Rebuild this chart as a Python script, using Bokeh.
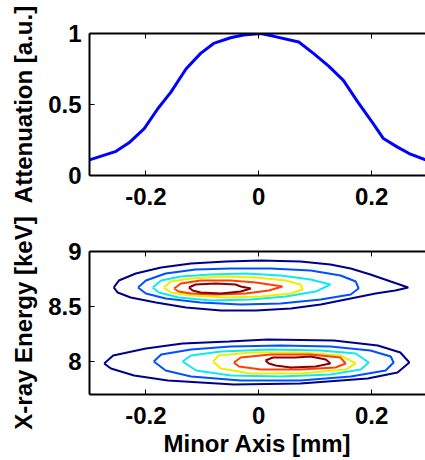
from bokeh.plotting import figure
from bokeh.models import Range1d, FixedTicker, LinearAxis
from bokeh.layouts import column
from bokeh.embed import file_html
from bokeh.resources import INLINE

# ---------------- data ----------------
atten_x = [-0.300, -0.253, -0.230, -0.203, -0.179, -0.156, -0.129, -0.103, -0.080,
           -0.050, -0.027, 0.004, 0.027, 0.071, 0.097, 0.124, 0.150, 0.177, 0.202,
           0.221, 0.246, 0.269, 0.296]
atten_y = [0.11, 0.17, 0.23, 0.33, 0.47, 0.585, 0.75, 0.86, 0.93,
           0.97, 0.99, 1.00, 0.98, 0.94, 0.86, 0.77, 0.67, 0.51, 0.37,
           0.26, 0.20, 0.15, 0.11]

x_ticks = [-0.2, 0.0, 0.2]
x_tick_labels = ["-0.2", "0", "0.2"]
atten_ticks = [0.0, 0.5, 1.0]
atten_tick_labels = ["0", "0.5", "1"]
energy_ticks = [8.0, 8.5, 9.0]
energy_tick_labels = ["8", "8.5", "9"]

level_colors = ["#00008F", "#0050FF", "#10E8F0", "#EEEE00", "#FF4000", "#8A0000"]

# upper peak (~8.68 keV) contours, outer -> inner
up0_x = [-0.257, -0.248, -0.218, -0.173, -0.120, -0.058, 0.004, 0.074, 0.127, 0.163, 0.198,
         0.234, 0.265, 0.242, 0.207, 0.163, 0.110, 0.057, -0.005, -0.067, -0.129, -0.182,
         -0.227, -0.250]
up0_y = [8.673, 8.736, 8.800, 8.855, 8.891, 8.909, 8.918, 8.909, 8.882, 8.845, 8.791,
         8.727, 8.673, 8.645, 8.618, 8.573, 8.518, 8.482, 8.464, 8.464, 8.491, 8.536,
         8.582, 8.627]
up1_x = [-0.214, -0.200, -0.165, -0.112, -0.050, 0.021, 0.092, 0.145, 0.172, 0.177, 0.163,
         0.110, 0.039, -0.032, -0.103, -0.165, -0.200]
up1_y = [8.673, 8.736, 8.800, 8.836, 8.845, 8.845, 8.827, 8.782, 8.727, 8.664, 8.609,
         8.564, 8.527, 8.518, 8.536, 8.573, 8.618]
up2_x = [-0.188, -0.173, -0.138, -0.085, -0.023, 0.039, 0.092, 0.127, 0.101, 0.048, -0.014,
         -0.085, -0.142, -0.177]
up2_y = [8.673, 8.736, 8.773, 8.791, 8.800, 8.782, 8.745, 8.700, 8.636, 8.591, 8.564,
         8.555, 8.582, 8.627]
up3_x = [-0.168, -0.156, -0.120, -0.067, -0.005, 0.048, 0.074, 0.078, 0.057, 0.004, -0.058,
         -0.120, -0.156]
up3_y = [8.673, 8.727, 8.755, 8.773, 8.764, 8.736, 8.700, 8.655, 8.618, 8.591, 8.582,
         8.600, 8.627]
up4_x = [-0.150, -0.138, -0.103, -0.050, -0.005, 0.042, 0.018, -0.023, -0.076, -0.120, -0.142]
up4_y = [8.664, 8.709, 8.736, 8.736, 8.718, 8.682, 8.645, 8.618, 8.609, 8.618, 8.636]
up5_x = [-0.124, -0.112, -0.076, -0.041, -0.032, -0.014, -0.032, -0.067, -0.103, -0.117]
up5_y = [8.673, 8.700, 8.709, 8.700, 8.682, 8.664, 8.636, 8.618, 8.627, 8.645]

# lower peak (~8.0 keV) contours, outer -> inner
lo0_x = [-0.274, -0.258, -0.200, -0.135, -0.053, 0.016, 0.133, 0.211, 0.251, 0.267, 0.246,
         0.193, 0.074, -0.044, -0.161, -0.221, -0.262]
lo0_y = [7.982, 8.055, 8.118, 8.164, 8.182, 8.200, 8.191, 8.145, 8.082, 7.991, 7.900,
         7.845, 7.800, 7.791, 7.827, 7.873, 7.936]
lo1_x = [-0.186, -0.173, -0.120, -0.050, 0.039, 0.127, 0.198, 0.234, 0.239, 0.225, 0.163,
         0.074, -0.032, -0.120, -0.165]
lo1_y = [8.000, 8.064, 8.109, 8.136, 8.145, 8.136, 8.100, 8.045, 7.991, 7.918, 7.864,
         7.827, 7.827, 7.864, 7.918]
lo2_x = [-0.135, -0.120, -0.067, 0.021, 0.110, 0.172, 0.195, 0.181, 0.127, 0.039, -0.050,
         -0.111]
lo2_y = [8.000, 8.055, 8.091, 8.109, 8.100, 8.073, 7.991, 7.927, 7.882, 7.864, 7.873,
         7.918]
lo3_x = [-0.081, -0.071, -0.014, 0.074, 0.145, 0.172, 0.154, 0.074, -0.014, -0.067]
lo3_y = [8.000, 8.055, 8.082, 8.082, 8.055, 7.982, 7.927, 7.891, 7.891, 7.936]
lo4_x = [-0.044, -0.032, 0.021, 0.092, 0.145, 0.154, 0.136, 0.074, 0.004, -0.035]
lo4_y = [7.991, 8.036, 8.064, 8.064, 8.036, 7.982, 7.945, 7.927, 7.927, 7.955]
lo5_x = [0.012, 0.025, 0.065, 0.092, 0.119, 0.127, 0.101, 0.057, 0.030, 0.018]
lo5_y = [8.009, 8.036, 8.036, 8.045, 8.018, 7.982, 7.955, 7.945, 7.964, 7.982]

upper_x = [up0_x, up1_x, up2_x, up3_x, up4_x, up5_x]
upper_y = [up0_y, up1_y, up2_y, up3_y, up4_y, up5_y]
lower_x = [lo0_x, lo1_x, lo2_x, lo3_x, lo4_x, lo5_x]
lower_y = [lo0_y, lo1_y, lo2_y, lo3_y, lo4_y, lo5_y]

FONT = "Liberation Sans"
TICK_SIZE = "24px"
LABEL_SIZE = "24px"


def style_axis(ax, ticks, labels, standoff, label_standoff=0):
    ax.ticker = FixedTicker(ticks=ticks)
    ax.major_label_overrides = {t: l for t, l in zip(ticks, labels)}
    ax.major_tick_in = 5
    ax.major_tick_out = 0
    ax.minor_tick_line_color = None
    ax.major_tick_line_color = "black"
    ax.major_tick_line_width = 1
    ax.axis_line_color = "black"
    ax.axis_line_width = 2
    ax.major_label_text_font = FONT
    ax.major_label_text_font_style = "bold"
    ax.major_label_text_color = "black"
    ax.major_label_text_font_size = TICK_SIZE
    ax.major_label_standoff = standoff
    ax.axis_label_text_font = FONT
    ax.axis_label_text_font_style = "bold"
    ax.axis_label_text_font_size = LABEL_SIZE
    ax.axis_label_text_color = "black"
    ax.axis_label_standoff = label_standoff


def make_fig(height, top, bottom, y_range):
    p = figure(width=425, height=height, output_backend="svg", toolbar_location=None,
               x_range=Range1d(-0.3, 0.2956), y_range=y_range,
               min_border_left=89, min_border_right=0,
               min_border_top=top, min_border_bottom=bottom)
    p.outline_line_color = None
    p.grid.visible = False
    p.background_fill_color = "white"
    p.border_fill_color = "white"
    # top frame edge with inward ticks, no labels (as in the reference)
    top_ax = LinearAxis()
    p.add_layout(top_ax, "above")
    style_axis(top_ax, x_ticks, ["", "", ""], 0)
    return p


# top: attenuation profile (frame y 33..175)
p1 = make_fig(215, 33, 40, Range1d(0, 1))
p1.line(atten_x, atten_y, line_color="#0000FF", line_width=3)
style_axis(p1.below[0], x_ticks, x_tick_labels, 12)
style_axis(p1.left[0], atten_ticks, atten_tick_labels, 8, 8)
p1.left[0].axis_label = "Attenuation [a.u.]"

# bottom: contour map (frame y 251..394)
p2 = make_fig(245, 36, 66, Range1d(7.7, 9.0))
for xs, ys, c in zip(upper_x + lower_x, upper_y + lower_y, level_colors + level_colors):
    p2.line(xs + [xs[0]], ys + [ys[0]], line_color=c, line_width=2)
style_axis(p2.below[0], x_ticks, x_tick_labels, 12, 3)
style_axis(p2.left[0], energy_ticks, energy_tick_labels, 8, 8)
p2.below[0].axis_label = "Minor Axis [mm]"
p2.left[0].axis_label = "X-ray Energy [keV]"

layout = column(p1, p2, spacing=0)
open("out.html", "w").write(file_html(layout, INLINE))
